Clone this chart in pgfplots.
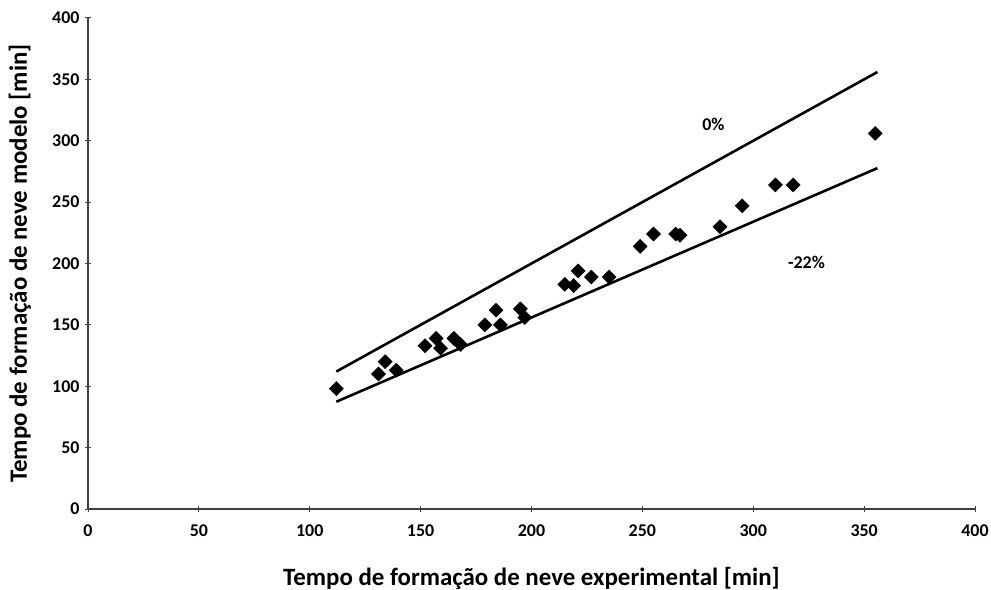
\documentclass[border=0pt]{standalone}
\usepackage{fontspec}
\setmainfont{Carlito}
\usepackage{pgfplots}
\pgfplotsset{compat=1.18}
\begin{document}
\begin{tikzpicture}[x=1bp,y=1bp]
\useasboundingbox (-88bp,-81bp) rectangle (903bp,509bp);
\begin{axis}[
  scale only axis,
  width=887bp, height=491bp,
  xmin=0, xmax=400, ymin=0, ymax=400,
  xtick={0,50,...,400}, ytick={0,50,...,400},
  axis lines=left,
  axis line style={-, line width=1.2pt, black!75},
  tick style={black!75, line width=1pt},
  major tick length=6bp,
  tick align=center,
  /pgf/number format/assume math mode=true,
  tick label style={font=\bfseries\fontsize{18}{18}\selectfont},
  xticklabel style={yshift=-9bp},
  yticklabel style={xshift=-2bp},
  xlabel={Tempo de formação de neve experimental [min]},
  ylabel={Tempo de formação de neve modelo [min]},
  label style={font=\bfseries\fontsize{25}{25}\selectfont},
  xlabel style={at={(rel axis cs:0.5,0)}, anchor=center, yshift=-69bp},
  ylabel style={at={(rel axis cs:0,0.5)}, anchor=center, yshift=68bp},
  clip=false,
]
% linha 0%
\addplot[black, line width=2.6pt] coordinates {(112,112)(356,356)};
% linha -22%
\addplot[black, line width=2.6pt] coordinates {(112,87.4)(356,277.7)};
% pontos experimentais
\addplot[only marks, mark=square*, mark size=5bp, mark options={rotate=45, fill=black, draw=black}]
coordinates {
(112,98)(131,110)(134,120)(139,113)(152,133)(157,139)(159,131)
(165,139)(168,134)(179,150)(184,162)(186,150)(195,163)(197,156)
(215,183)(219,182)(221,194)(227,189)(235,189)(249,214)(255,224)
(265,224)(267,223)(285,230)(295,247)(310,264)(318,264)(355,306)
};
\node[font=\bfseries\fontsize{18}{18}\selectfont] at (axis cs:282,313) {0\%};
\node[font=\bfseries\fontsize{18}{18}\selectfont] at (axis cs:324,201) {-22\%};
\end{axis}
\end{tikzpicture}
\end{document}
